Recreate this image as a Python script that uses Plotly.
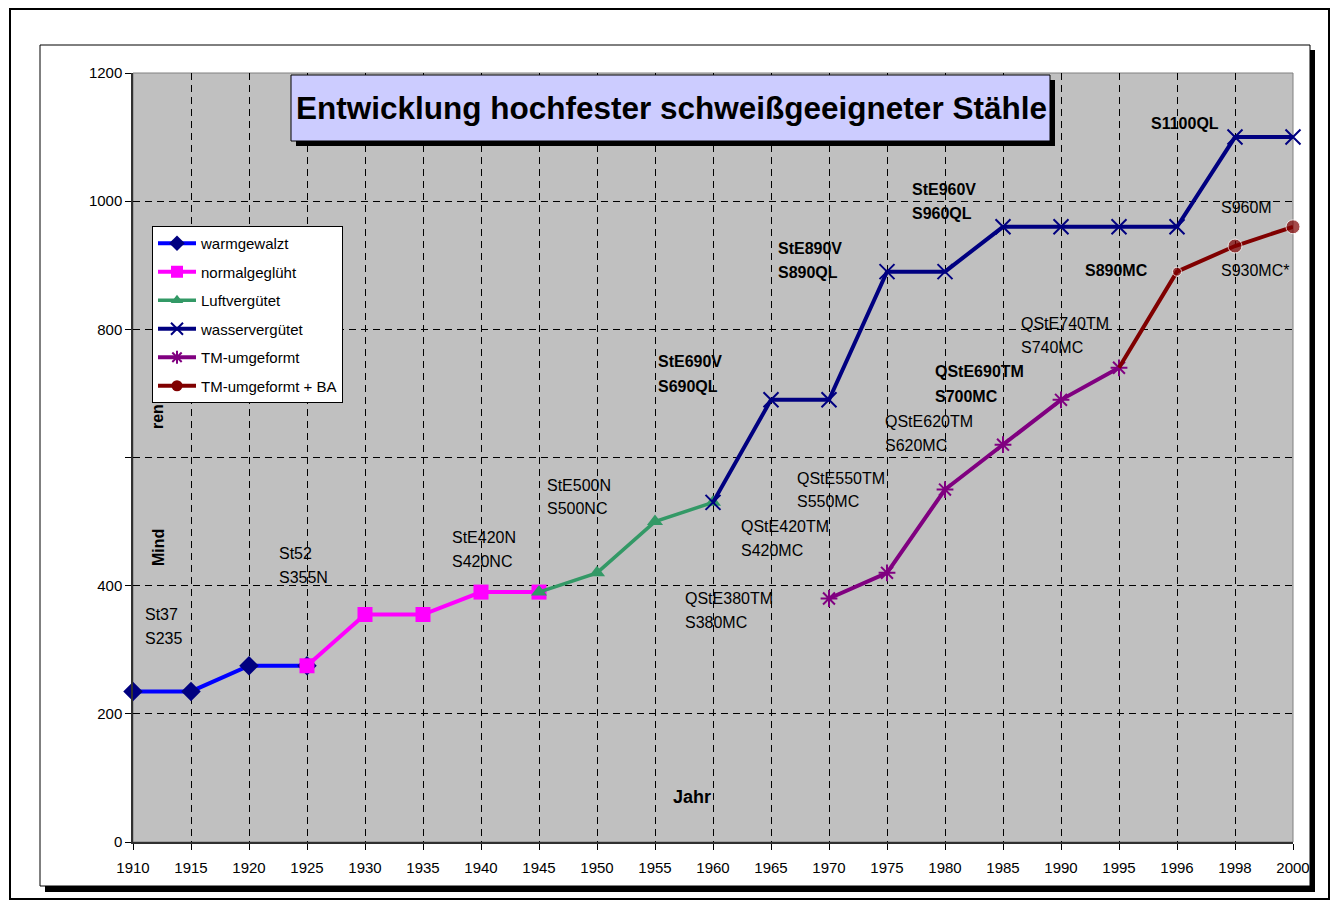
import plotly.graph_objects as go

# ---------------- data ----------------
years = ["1910", "1915", "1920", "1925", "1930", "1935", "1940", "1945", "1950", "1955",
         "1960", "1965", "1970", "1975", "1980", "1985", "1990", "1995", "1996", "1998", "2000"]
N = None
warmgewalzt    = [235, 235, 275, 275, N, N, N, N, N, N, N, N, N, N, N, N, N, N, N, N, N]
normalgeglueht = [N, N, N, 275, 355, 355, 390, 390, N, N, N, N, N, N, N, N, N, N, N, N, N]
luftverguetet  = [N, N, N, N, N, N, N, 390, 420, 500, 530, N, N, N, N, N, N, N, N, N, N]
wasserverguetet = [N, N, N, N, N, N, N, N, N, N, 530, 690, 690, 890, 890, 960, 960, 960, 960, 1100, 1100]
tm_umgeformt   = [N, N, N, N, N, N, N, N, N, N, N, N, 380, 420, 550, 620, 690, 740, N, N, N]
tm_ba          = [N, N, N, N, N, N, N, N, N, N, N, N, N, N, N, N, N, 740, 890, 930, 960]

series_names = ["warmgewalzt", "normalgeglüht", "Luftvergütet", "wasservergütet",
                "TM-umgeformt", "TM-umgeformt + BA"]

y_ticks = [0, 200, 400, 600, 800, 1000, 1200]
y_tick_labels = ["0", "200", "400", "", "800", "1000", "1200"]

title_text = "Entwicklung hochfester schweißgeeigneter Stähle"

# steel grade labels: (text, bold)
label_texts = [
    ("St37", False), ("S235", False),
    ("St52", False), ("S355N", False),
    ("StE420N", False), ("S420NC", False),
    ("StE500N", False), ("S500NC", False),
    ("StE690V", True), ("S690QL", True),
    ("StE890V", True), ("S890QL", True),
    ("StE960V", True), ("S960QL", True),
    ("S1100QL", True),
    ("S960M", False),
    ("S890MC", True),
    ("S930MC*", False),
    ("QStE740TM", False), ("S740MC", False),
    ("QStE690TM", True), ("S700MC", True),
    ("QStE620TM", False), ("S620MC", False),
    ("QStE550TM", False), ("S550MC", False),
    ("QStE420TM", False), ("S420MC", False),
    ("QStE380TM", False), ("S380MC", False),
]
# label anchor positions (screen pixel layout)
label_pos = [
    (145, 614), (145, 638),
    (279, 553), (279, 577),
    (452, 537), (452, 561),
    (547, 485), (547, 509),
    (658, 362), (658, 386),
    (778, 248), (778, 272),
    (912, 190), (912, 213),
    (1151, 124),
    (1221, 207),
    (1085, 270),
    (1221, 270),
    (1021, 323), (1021, 347),
    (935, 372), (935, 396),
    (885, 421), (885, 445),
    (797, 478), (797, 502),
    (741, 526), (741, 550),
    (685, 598), (685, 622),
]

# ---------------- layout geometry (screen pixels) ----------------
SW, SH = 1332, 904        # window
OFF = 0                   # body margin removed via post_script
PL, PR, PT, PB = 133, 1293, 73, 842


def px(x):
    return (x - PL) / (PR - PL)


def py(y):
    return (PB - y) / (PB - PT)


FONT = "Liberation Sans, Arial, sans-serif"

fig = go.Figure()

styles = [
    dict(line=dict(color="#0000FF", width=4),
         marker=dict(symbol="diamond", size=15, color="#000080")),
    dict(line=dict(color="#FF00FF", width=4),
         marker=dict(symbol="square", size=15, color="#FF00FF")),
    dict(line=dict(color="#339966", width=3.5),
         marker=dict(symbol="triangle-up", size=14, color="#339966")),
    dict(line=dict(color="#000080", width=4),
         marker=dict(symbol="x-thin-open", size=15, color="#000080",
                     line=dict(width=2, color="#000080"))),
    dict(line=dict(color="#800080", width=4),
         marker=dict(symbol="asterisk-open", size=14, color="#800080",
                     line=dict(width=2, color="#800080"))),
    dict(line=dict(color="#800000", width=4),
         marker=dict(symbol="circle", size=[0, 9, 14, 14], color="#800000")),
]
legend_marker_sizes = [12, 12, 11, 12, 11, 11]
all_series = [warmgewalzt, normalgeglueht, luftverguetet, wasserverguetet, tm_umgeformt, tm_ba]

for i, (name, vals, st) in enumerate(zip(series_names, all_series, styles)):
    xs = [y for y, v in zip(years, vals) if v is not None]
    ys = [v for v in vals if v is not None]
    fig.add_trace(go.Scatter(x=xs, y=ys, mode="lines+markers", name=name,
                             showlegend=False, cliponaxis=False, **st))

# legend entries
for i, (name, st) in enumerate(zip(series_names, styles)):
    mk = dict(st["marker"])
    mk["size"] = legend_marker_sizes[i]
    fig.add_trace(go.Scatter(x=[None], y=[None], mode="lines+markers", name=name,
                             legendgroup=f"g{i}", line=st["line"], marker=mk))

annotations = []
for (txt, bold), (lx, ly) in zip(label_texts, label_pos):
    annotations.append(dict(
        x=px(lx - 2), y=py(ly), xref="paper", yref="paper",
        text=f"<b>{txt}</b>" if bold else txt, showarrow=False,
        xanchor="left", yanchor="middle",
        font=dict(family=FONT, size=16, color="black")))

# axis titles (as displayed inside the plot)
annotations.append(dict(x=px(692), y=py(797), xref="paper", yref="paper",
                        text="<b>Jahr</b>", showarrow=False,
                        xanchor="center", yanchor="middle",
                        font=dict(family=FONT, size=18, color="black")))
annotations.append(dict(x=px(158), y=py(548), xref="paper", yref="paper",
                        text="<b>Mind</b>", showarrow=False, textangle=-90,
                        xanchor="center", yanchor="middle",
                        font=dict(family=FONT, size=16, color="black")))
annotations.append(dict(x=px(158), y=py(417), xref="paper", yref="paper",
                        text="<b>ren</b>", showarrow=False, textangle=-90,
                        xanchor="center", yanchor="middle",
                        font=dict(family=FONT, size=16, color="black")))
# title
annotations.append(dict(x=px(671), y=py(108), xref="paper", yref="paper",
                        text=f"<b>{title_text}</b>", showarrow=False,
                        xanchor="center", yanchor="middle",
                        font=dict(family=FONT, size=31.5, color="black")))

shapes = [
    # outer frame
    dict(type="rect", xref="paper", yref="paper", x0=px(10), x1=px(1329), y0=py(9), y1=py(899),
         line=dict(color="black", width=2), layer="below"),
    # inner frame shadow strips
    dict(type="rect", xref="paper", yref="paper", x0=px(1310), x1=px(1315), y0=py(50), y1=py(892),
         line=dict(width=0), fillcolor="black", layer="below"),
    dict(type="rect", xref="paper", yref="paper", x0=px(45), x1=px(1315), y0=py(886), y1=py(892),
         line=dict(width=0), fillcolor="black", layer="below"),
    # inner frame
    dict(type="rect", xref="paper", yref="paper", x0=px(40), x1=px(1310), y0=py(45), y1=py(886),
         line=dict(color="black", width=1), layer="below"),
    # plot area border (gray)
    dict(type="rect", xref="paper", yref="paper", x0=0, x1=1, y0=0, y1=1,
         line=dict(color="#808080", width=1), layer="below"),
    # title box shadow
    dict(type="rect", xref="paper", yref="paper", x0=px(296), x1=px(1055), y0=py(80), y1=py(146),
         line=dict(width=0), fillcolor="black", layer="above"),
    # title box
    dict(type="rect", xref="paper", yref="paper", x0=px(291), x1=px(1050), y0=py(75), y1=py(141),
         line=dict(color="black", width=1), fillcolor="#CCCCFF", layer="above"),
]

fig.update_layout(
    width=SW - OFF, height=SH - OFF, autosize=False,
    margin=dict(l=PL - OFF, r=SW - PR, t=PT - OFF, b=SH - PB, pad=0),
    paper_bgcolor="white", plot_bgcolor="#C0C0C0",
    font=dict(family=FONT, size=15, color="black"),
    showlegend=True,
    legend=dict(x=px(152), y=py(226), xanchor="left", yanchor="top",
                bgcolor="white", bordercolor="black", borderwidth=1,
                font=dict(family=FONT, size=15, color="black"),
                traceorder="grouped", tracegroupgap=6, itemwidth=38),
    annotations=annotations,
    shapes=shapes,
)

fig.update_xaxes(type="category", categoryorder="array", categoryarray=years,
                 range=[0, len(years) - 1],
                 showgrid=True, gridcolor="black", gridwidth=1, griddash="7px,5px",
                 showline=True, linecolor="#303030", linewidth=1.5,
                 ticks="outside", ticklen=6, tickcolor="black",
                 tickfont=dict(family=FONT, size=15, color="black"),
                 ticklabelstandoff=5, zeroline=False)
fig.update_yaxes(range=[0, 1200], tickvals=y_ticks, ticktext=y_tick_labels,
                 showgrid=True, gridcolor="black", gridwidth=1, griddash="7px,5px",
                 showline=True, linecolor="#303030", linewidth=1.5,
                 ticks="outside", ticklen=6, tickcolor="black",
                 tickfont=dict(family=FONT, size=15, color="black"),
                 zeroline=False)

fig.write_html("out.html",
               config={"displayModeBar": False},
               post_script="document.body.style.margin='0';document.body.style.overflow='hidden';")
